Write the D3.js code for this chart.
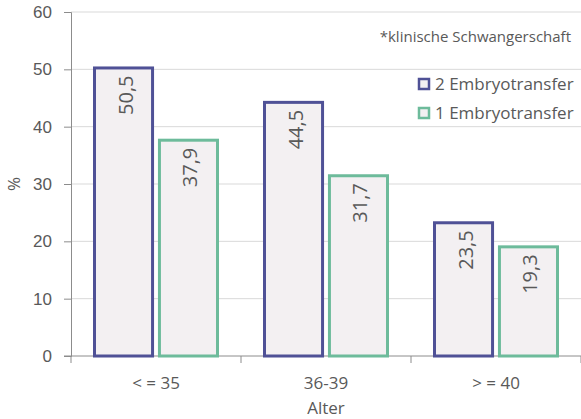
<!DOCTYPE html>
<html>
<head>
<meta charset="utf-8">
<script src="https://cdn.jsdelivr.net/npm/d3@7"></script>
<style>
  html, body { margin: 0; padding: 0; background: #fff; }
  svg { display: block; font-family: "Open Sans", "Noto Sans", sans-serif; }
</style>
</head>
<body>
<svg id="chart" width="581" height="419"></svg>
<script>
const categories = ["< = 35", "36-39", "> = 40"];
const seriesNames = ["2 Embryotransfer", "1 Embryotransfer"];
const zweiET = [50.5, 44.5, 23.5];
const einET = [37.9, 31.7, 19.3];
const yTicks = [0, 10, 20, 30, 40, 50, 60];

const colors = ["#4f5196", "#6dbb9b"];
const fill = "#f3f0f2";
const textColor = "#595959";

const svg = d3.select("#chart");
const margin = { left: 71, right: 0, top: 12, bottom: 63 };
const W = 581, H = 419;

const x = d3.scaleBand().domain(categories).range([margin.left, W - margin.right]);
const inner = d3.scaleBand().domain(seriesNames).range([22, x.bandwidth() - 22]).paddingInner(0.06);
const y = d3.scaleLinear().domain([0, 60]).range([H - margin.bottom, margin.top]);

// gridlines
svg.append("g").selectAll("line").data(yTicks.filter(d => d > 0)).join("line")
  .attr("x1", margin.left).attr("x2", W)
  .attr("y1", d => y(d)).attr("y2", d => y(d))
  .attr("stroke", "#d9d9d9").attr("stroke-width", 1);

// y axis
const yAxis = svg.append("g").attr("transform", `translate(${margin.left},0)`)
  .call(d3.axisLeft(y).tickValues(yTicks).tickSize(7).tickPadding(12));
yAxis.select(".domain").attr("stroke", "#8c8c8c");
yAxis.selectAll(".tick line").attr("stroke", "#8c8c8c");
yAxis.selectAll(".tick text").attr("fill", textColor).style("font-size", "17px");

// x axis with ticks on band boundaries
const xAxisG = svg.append("g").attr("transform", `translate(0,${y(0)})`);
xAxisG.append("line").attr("x1", margin.left - 7).attr("x2", W)
  .attr("stroke", "#8c8c8c");
const bounds = categories.map(c => x(c)).concat([x(categories[categories.length - 1]) + x.bandwidth()]);
xAxisG.selectAll(".bt").data(bounds).join("line").attr("class", "bt")
  .attr("x1", d => d).attr("x2", d => d).attr("y1", 0).attr("y2", 7)
  .attr("stroke", "#8c8c8c");
xAxisG.selectAll(".cl").data(categories).join("text").attr("class", "cl")
  .attr("x", d => x(d) + x.bandwidth() / 2).attr("y", 33)
  .attr("text-anchor", "middle").attr("fill", textColor).style("font-size", "17px")
  .text(d => d);

// bars
const rows = categories.map((c, i) => ({ cat: c, vals: [zweiET[i], einET[i]] }));
const groups = svg.append("g").selectAll("g").data(rows).join("g")
  .attr("transform", d => `translate(${x(d.cat)},0)`);
groups.selectAll("rect").data(d => d.vals.map((v, j) => ({ v, j }))).join("rect")
  .attr("x", d => inner(seriesNames[d.j]) + 1.5)
  .attr("width", inner.bandwidth() - 3)
  .attr("y", d => y(d.v) + 1.5)
  .attr("height", d => y(0) - y(d.v) - 1.5)
  .attr("fill", fill)
  .attr("stroke", d => colors[d.j]).attr("stroke-width", 3);
groups.selectAll("text").data(d => d.vals.map((v, j) => ({ v, j }))).join("text")
  .attr("transform", d => {
    const cx = inner(seriesNames[d.j]) + inner.bandwidth() / 2 + 9;
    return `translate(${cx},${y(d.v) + 9}) rotate(-90)`;
  })
  .attr("text-anchor", "end").attr("fill", textColor).style("font-size", "20px")
  .text(d => d3.format(".1f")(d.v).replace(".", ","));

// legend
const lg = svg.append("g");
lg.append("rect").attr("x", 408).attr("y", 70.5).attr("width", 173).attr("height", 55.5).attr("fill", "#fff");
seriesNames.forEach((s, i) => {
  const yy = 84 + i * 29;
  lg.append("rect").attr("x", 419).attr("y", yy - 5).attr("width", 10).attr("height", 10)
    .attr("fill", fill).attr("stroke", colors[i]).attr("stroke-width", 2.5);
  lg.append("text").attr("x", 435).attr("y", yy + 6).attr("fill", textColor)
    .style("font-size", "17px").text(s);
});

// note
svg.append("text").attr("x", 571).attr("y", 42).attr("text-anchor", "end")
  .attr("fill", textColor).style("font-size", "15px").text("*klinische Schwangerschaft");

// axis titles
svg.append("text").attr("transform", `translate(20,${(y(0) + y(60)) / 2}) rotate(-90)`)
  .attr("text-anchor", "middle").attr("fill", textColor).style("font-size", "17px").text("%");
svg.append("text").attr("x", x(categories[1]) + x.bandwidth() / 2).attr("y", 414)
  .attr("text-anchor", "middle").attr("fill", textColor).style("font-size", "17px").text("Alter");
</script>
</body>
</html>
